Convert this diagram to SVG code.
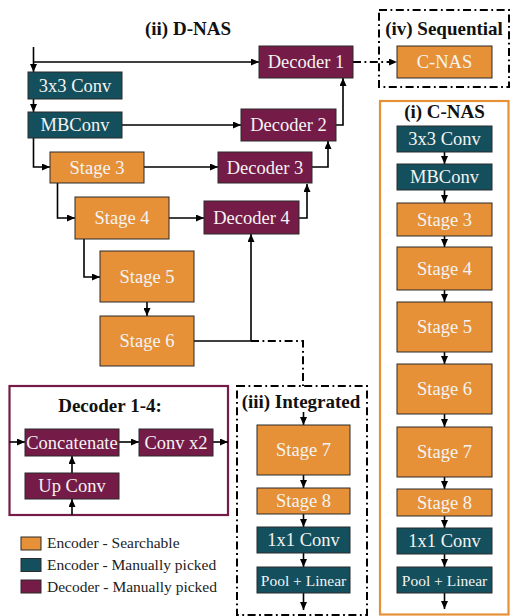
<svg xmlns="http://www.w3.org/2000/svg" width="511" height="616" viewBox="0 0 511 616">
<defs>
<marker id="ah" viewBox="0 0 8 7" refX="8" refY="3.5" markerWidth="8" markerHeight="7" markerUnits="userSpaceOnUse" orient="auto"><path d="M0,0 L8,3.5 L0,7 z" fill="#000"/></marker>
<style>
text{font-family:"Liberation Serif","DejaVu Serif",serif;}
.n rect{stroke:#2b2b2b;stroke-width:1;}
.o{fill:#e69138;}
.t{fill:#134f5c;}
.p{fill:#741b47;}
.lbl{fill:#f4f4f4;font-size:18.5px;text-anchor:middle;dominant-baseline:central;}
.sm{font-size:15.5px;}
.title{fill:#111;font-size:19px;font-weight:bold;text-anchor:middle;}
.leg{fill:#222;font-size:15.5px;}
.c{fill:none;stroke:#000;stroke-width:1.6;}
.a{marker-end:url(#ah);}
.dd{fill:none;stroke:#000;stroke-width:2;stroke-dasharray:8 3.5 1.8 3.5;}
</style>
</defs>
<rect width="511" height="616" fill="#fff"/>

<!-- frames -->
<g id="frame-sequential"><rect x="379" y="10" width="130" height="77" class="dd"/><text x="444" y="35" class="title">(iv) Sequential</text></g>
<g id="frame-cnas"><rect x="380" y="101" width="128.5" height="513.5" fill="none" stroke="#e69138" stroke-width="2.2"/><text x="444.5" y="118" class="title">(i) C-NAS</text></g>
<g id="frame-integrated"><rect x="237" y="386" width="130" height="229" class="dd"/><text x="301" y="408" class="title">(iii) Integrated</text></g>
<g id="frame-decoder"><rect x="9.5" y="386" width="218.5" height="129" fill="none" stroke="#741b47" stroke-width="2.2"/><text x="110" y="412" class="title">Decoder 1-4:</text></g>
<g id="title-dnas"><text x="188" y="35" class="title">(ii) D-NAS</text></g>

<!-- connectors -->
<g id="connectors">
<path class="c a" d="M33.5,47 V72"/>
<path class="c a" d="M33.5,62 H259"/>
<path class="c a" d="M33.5,99 V112"/>
<path class="c a" d="M122,125 H241"/>
<path class="c a" d="M33.5,138 V167 H50"/>
<path class="c a" d="M144,167 H218"/>
<path class="c a" d="M57.5,183 V218 H75"/>
<path class="c a" d="M169,218 H204"/>
<path class="c a" d="M84,239 V277 H100"/>
<path class="c a" d="M147,302 V316"/>
<path class="c" d="M194,341 H251"/>
<path class="c a" d="M251,341 V234"/>
<path class="c a" d="M299,218 H307 V184"/>
<path class="c a" d="M312,167 H328 V141"/>
<path class="c a" d="M336,125 H343 V78"/>
<path class="dd" d="M251,341 H303 V386" stroke-width="1.8"/>
<path class="dd a" d="M353,62 H397" stroke-width="1.8"/>
<!-- integrated -->
<path class="c a" d="M303.5,412 V425"/>
<path class="c a" d="M303.5,475 V488"/>
<path class="c a" d="M303.5,514 V527"/>
<path class="c a" d="M303.5,553 V567"/>
<path class="c a" d="M303.5,593 V610"/>
<!-- c-nas -->
<path class="c a" d="M444.5,152 V164"/>
<path class="c a" d="M444.5,190 V203"/>
<path class="c a" d="M444.5,236 V247"/>
<path class="c a" d="M444.5,290 V302"/>
<path class="c a" d="M444.5,352 V364"/>
<path class="c a" d="M444.5,414 V427"/>
<path class="c a" d="M444.5,477 V489"/>
<path class="c a" d="M444.5,516 V528"/>
<path class="c a" d="M444.5,554 V567"/>
<path class="c a" d="M444.5,593 V609"/>
<!-- decoder detail -->
<path class="c a" d="M9.5,442 H25"/>
<path class="c a" d="M119,442 H139"/>
<path class="c a" d="M213,442 H228"/>
<path class="c a" d="M72,473 V456"/>
<path class="c a" d="M72,515 V499"/>
</g>

<!-- D-NAS nodes -->
<g id="dnas-conv3" class="n"><rect x="28" y="72" width="94" height="27" class="t"/><text x="75" y="85.5" class="lbl">3x3 Conv</text></g>
<g id="dnas-mbconv" class="n"><rect x="28" y="112" width="94" height="26" class="t"/><text x="75" y="125" class="lbl">MBConv</text></g>
<g id="dnas-stage3" class="n"><rect x="50" y="152" width="94" height="31" class="o"/><text x="97" y="167.5" class="lbl">Stage 3</text></g>
<g id="dnas-stage4" class="n"><rect x="75" y="197" width="94" height="42" class="o"/><text x="122" y="218" class="lbl">Stage 4</text></g>
<g id="dnas-stage5" class="n"><rect x="100" y="251" width="94" height="51" class="o"/><text x="147" y="276.5" class="lbl">Stage 5</text></g>
<g id="dnas-stage6" class="n"><rect x="100" y="316" width="94" height="50" class="o"/><text x="147" y="341" class="lbl">Stage 6</text></g>
<g id="dnas-dec1" class="n"><rect x="259" y="46" width="94" height="32" class="p"/><text x="306" y="62" class="lbl">Decoder 1</text></g>
<g id="dnas-dec2" class="n"><rect x="241" y="109" width="95" height="32" class="p"/><text x="288.5" y="125" class="lbl">Decoder 2</text></g>
<g id="dnas-dec3" class="n"><rect x="218" y="152" width="94" height="31" class="p"/><text x="265" y="167.5" class="lbl">Decoder 3</text></g>
<g id="dnas-dec4" class="n"><rect x="204" y="201" width="95" height="33" class="p"/><text x="251.5" y="217.5" class="lbl">Decoder 4</text></g>

<!-- Sequential -->
<g id="seq-cnas" class="n"><rect x="397" y="46" width="95" height="32" class="o"/><text x="444.5" y="62" class="lbl">C-NAS</text></g>

<!-- C-NAS column -->
<g id="c-conv3" class="n"><rect x="397" y="126" width="95" height="26" class="t"/><text x="444.5" y="139" class="lbl">3x3 Conv</text></g>
<g id="c-mbconv" class="n"><rect x="397" y="164" width="95" height="26" class="t"/><text x="444.5" y="177" class="lbl">MBConv</text></g>
<g id="c-stage3" class="n"><rect x="397" y="203" width="95" height="33" class="o"/><text x="444.5" y="219.5" class="lbl">Stage 3</text></g>
<g id="c-stage4" class="n"><rect x="397" y="247" width="95" height="43" class="o"/><text x="444.5" y="268.5" class="lbl">Stage 4</text></g>
<g id="c-stage5" class="n"><rect x="397" y="302" width="95" height="50" class="o"/><text x="444.5" y="327" class="lbl">Stage 5</text></g>
<g id="c-stage6" class="n"><rect x="397" y="364" width="95" height="50" class="o"/><text x="444.5" y="389" class="lbl">Stage 6</text></g>
<g id="c-stage7" class="n"><rect x="397" y="427" width="95" height="50" class="o"/><text x="444.5" y="452" class="lbl">Stage 7</text></g>
<g id="c-stage8" class="n"><rect x="397" y="489" width="95" height="27" class="o"/><text x="444.5" y="502.5" class="lbl">Stage 8</text></g>
<g id="c-conv1" class="n"><rect x="397" y="528" width="95" height="26" class="t"/><text x="444.5" y="541" class="lbl">1x1 Conv</text></g>
<g id="c-pool" class="n"><rect x="397" y="567" width="95" height="26" class="t"/><text x="444.5" y="580" class="lbl sm">Pool + Linear</text></g>

<!-- Integrated column -->
<g id="i-stage7" class="n"><rect x="257" y="425" width="93" height="50" class="o"/><text x="303.5" y="450" class="lbl">Stage 7</text></g>
<g id="i-stage8" class="n"><rect x="257" y="488" width="93" height="26" class="o"/><text x="303.5" y="501" class="lbl">Stage 8</text></g>
<g id="i-conv1" class="n"><rect x="257" y="527" width="93" height="26" class="t"/><text x="303.5" y="540" class="lbl">1x1 Conv</text></g>
<g id="i-pool" class="n"><rect x="257" y="567" width="93" height="26" class="t"/><text x="303.5" y="580" class="lbl sm">Pool + Linear</text></g>

<!-- Decoder detail -->
<g id="d-concat" class="n"><rect x="25" y="429" width="94" height="27" class="p"/><text x="72" y="442.5" class="lbl">Concatenate</text></g>
<g id="d-convx2" class="n"><rect x="139" y="429" width="74" height="27" class="p"/><text x="176" y="442.5" class="lbl">Conv x2</text></g>
<g id="d-upconv" class="n"><rect x="25" y="473" width="94" height="26" class="p"/><text x="72" y="486" class="lbl">Up Conv</text></g>

<!-- Legend -->
<g id="legend" class="n">
<rect x="21" y="537" width="20" height="13" class="o"/><text x="47" y="548" class="leg">Encoder - Searchable</text>
<rect x="21" y="558.5" width="20" height="13" class="t"/><text x="47" y="570" class="leg">Encoder - Manually picked</text>
<rect x="21" y="580" width="20" height="13" class="p"/><text x="47" y="592" class="leg">Decoder - Manually picked</text>
</g>
</svg>
